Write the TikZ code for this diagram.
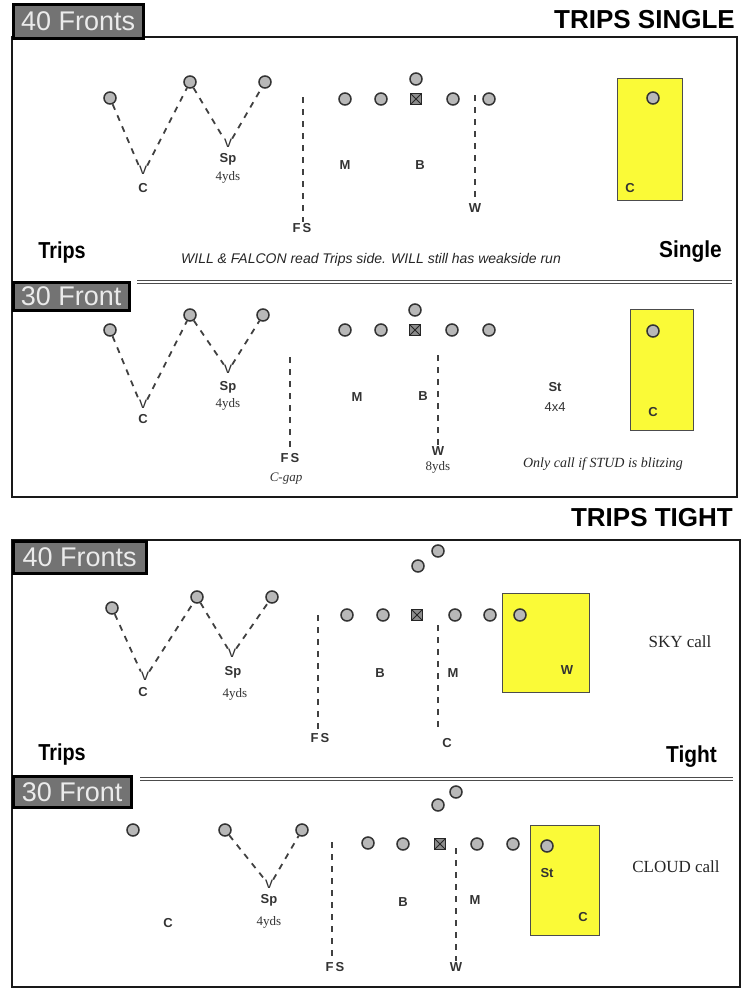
\documentclass[tikz,border=0pt]{standalone}
\usepackage{fontspec}
\setmainfont{Liberation Sans}
\newfontfamily\timesfont{Liberation Serif}
\usetikzlibrary{positioning}
\definecolor{zoneyellow}{RGB}{250,250,55}

\begin{document}
\begin{tikzpicture}[x=1pt,y=-1pt]
  \tikzstyle{Player}=[circle,draw=black!80,fill=black!28,line width=1.5pt,minimum size=12pt,inner sep=0pt]
  \tikzstyle{Snap}=[rectangle,draw=black!85,fill=black!45,line width=1.3pt,minimum size=11pt,inner sep=0pt,
    path picture={\draw[line width=.8pt] (path picture bounding box.north west) -- (path picture bounding box.south east)
                                         (path picture bounding box.north east) -- (path picture bounding box.south west);}]
  \tikzstyle{Route}=[draw=black!75,line width=1.8pt,dash pattern=on 6pt off 6pt]
  \tikzstyle{Vee}=[inner sep=0pt,font=\fontsize{16}{16}\selectfont,text=black!80]
  \tikzstyle{Pos}=[inner sep=1pt,font=\bfseries\fontsize{13}{13}\selectfont,text=black!80]
  \tikzstyle{Yds}=[inner sep=1pt,font=\timesfont\fontsize{13}{13}\selectfont,text=black!80]
  \tikzstyle{Zone}=[rectangle,draw=black!70,fill=zoneyellow,line width=1.3pt,anchor=north west,inner sep=0pt]
  \tikzstyle{Front}=[rectangle,draw=black,line width=2.5pt,fill=black!55,text=white!92!black,
    font=\fontsize{27}{27}\selectfont,anchor=north west,inner sep=0pt]
  \tikzstyle{Frame}=[draw=black!90,line width=2pt]
  \tikzstyle{Divider}=[draw=black!70,line width=1pt,double,double distance=2.5pt]
  \tikzstyle{Title}=[font=\bfseries\fontsize{26}{26}\selectfont,anchor=east,inner sep=0pt]
  \tikzstyle{Side}=[font=\bfseries\fontsize{22}{22}\selectfont,inner sep=0pt]
  \tikzstyle{Note}=[font=\itshape\fontsize{14}{14}\selectfont,inner sep=0pt,text=black!85]
  \tikzstyle{Call}=[font=\timesfont\fontsize{17}{17}\selectfont,inner sep=0pt,text=black!85]

  \useasboundingbox (0,0) rectangle (749,989);

  % frames
  \draw[Frame] (12,37) rectangle (737,497);
  \draw[Frame] (12,540) rectangle (740,987);
  \draw[Divider] (137,282) -- (732,282);
  \draw[Divider] (140,779) -- (733,779);

  \node[Front,minimum width=130,minimum height=34] (fronta) at (12,3) {40 Fronts};
  \node[Front,minimum width=116,minimum height=28] (frontb) at (12,281) {30 Front};
  \node[Front,minimum width=133,minimum height=32] (frontc) at (12,540) {40 Fronts};
  \node[Front,minimum width=118,minimum height=31] (frontd) at (12,775) {30 Front};

  \node[Title] (single) at (735,20) {TRIPS SINGLE};
  \node[Title] (tight) at (733,518) {TRIPS TIGHT};

  % TRIPS SINGLE - 40
  \node[Player] (a1) at (110,98) {};
  \node[Player] (a2) at (190,82) {};
  \node[Player] (a3) at (265,82) {};
  \node[Player] (a4) at (345,99) {};
  \node[Player] (a5) at (381,99) {};
  \node[Snap] (a6) at (416,99) {};
  \node[Player] (a7) at (416,79) {};
  \node[Player] (a8) at (453,99) {};
  \node[Player] (a9) at (489,99) {};
  \node[Zone,minimum width=65,minimum height=122] (za) at (617,78) {};
  \node[Player] (a10) at (653,98) {};
  \node[Pos] (zca) at (630,188) {C};

  \node[Vee] (va1) at (143,170) {v};
  \node[Pos] (ca) at (143,188) {C};
  \node[Vee] (va2) at (228,143) {v};
  \node[Pos] (spa) at (228,159) {Sp};
  \node[Yds] (yda) at (228,177) {4yds};
  \node[Pos] (ma) at (345,165) {M};
  \node[Pos] (ba) at (420,165) {B};
  \node[Pos] (fsa) at (302,228) {F\,S};
  \node[Pos] (wa) at (475,208) {W};
  \coordinate (fsatop) at (303,97);
  \coordinate (watop) at (475,95);

  \draw[Route] (a1) -- (va1.north west);
  \draw[Route] (va1.north east) -- (a2);
  \draw[Route] (a2) -- (va2.north west);
  \draw[Route] (va2.north east) -- (a3);
  \draw[Route] (fsatop) -- (fsatop |- fsa.north);
  \draw[Route] (watop) -- (watop |- wa.north);

  \node[Side] (tripsa) at (62,253) {\scalebox{0.9}[1.05]{Trips}};
  \node[Side,anchor=east] (sidea) at (722,252) {\scalebox{0.95}[1.05]{Single}};
  \node[Note] (notea) at (371,260) {WILL \& FALCON read Trips side. WILL still has weakside run};

  % TRIPS SINGLE - 30
  \node[Player] (b1) at (110,330) {};
  \node[Player] (b2) at (190,315) {};
  \node[Player] (b3) at (263,315) {};
  \node[Player] (b4) at (345,330) {};
  \node[Player] (b5) at (381,330) {};
  \node[Snap] (b6) at (415,330) {};
  \node[Player] (b7) at (415,310) {};
  \node[Player] (b8) at (452,330) {};
  \node[Player] (b9) at (489,330) {};
  \node[Zone,minimum width=63,minimum height=121] (zb) at (630,309) {};
  \node[Player] (b10) at (653,331) {};
  \node[Pos] (zcb) at (653,412) {C};

  \node[Vee] (vb1) at (143,404) {v};
  \node[Pos] (cb) at (143,419) {C};
  \node[Vee] (vb2) at (228,369) {v};
  \node[Pos] (spb) at (228,387) {Sp};
  \node[Yds] (ydb) at (228,404) {4yds};
  \node[Pos] (mb) at (357,397) {M};
  \node[Pos] (bb) at (423,396) {B};
  \node[Pos] (fsb) at (290,458) {F\,S};
  \node[Yds,font=\timesfont\itshape\fontsize{13}{13}\selectfont] (gapb) at (286,479) {C-gap};
  \node[Pos] (wb) at (438,451) {W};
  \node[Yds] (ydw) at (438,467) {8yds};
  \node[Pos] (stb) at (555,387) {St};
  \node[Yds,font=\fontsize{13}{13}\selectfont] (fourb) at (555,407) {4x4};
  \coordinate (fsbtop) at (290,357);
  \coordinate (wbtop) at (438,355);

  \draw[Route] (b1) -- (vb1.north west);
  \draw[Route] (vb1.north east) -- (b2);
  \draw[Route] (b2) -- (vb2.north west);
  \draw[Route] (vb2.north east) -- (b3);
  \draw[Route] (fsbtop) -- (fsbtop |- fsb.north);
  \draw[Route] (wbtop) -- (wbtop |- wb.north);

  \node[Call,font=\timesfont\itshape\fontsize{14}{14}\selectfont] (noteb) at (603,464) {Only call if STUD is blitzing};

  % TRIPS TIGHT - 40
  \node[Player] (c1) at (112,608) {};
  \node[Player] (c2) at (197,597) {};
  \node[Player] (c3) at (272,597) {};
  \node[Player] (c4) at (347,615) {};
  \node[Player] (c5) at (383,615) {};
  \node[Snap] (c6) at (417,615) {};
  \node[Player] (c7) at (455,615) {};
  \node[Player] (c8) at (490,615) {};
  \node[Zone,minimum width=87,minimum height=99] (zc) at (502,593) {};
  \node[Player] (c9) at (520,615) {};
  \node[Player] (c10) at (418,566) {};
  \node[Player] (c11) at (438,551) {};
  \node[Pos] (zwc) at (567,670) {W};

  \node[Vee] (vc1) at (145,676) {v};
  \node[Pos] (cc) at (143,692) {C};
  \node[Vee] (vc2) at (232,653) {v};
  \node[Pos] (spc) at (233,672) {Sp};
  \node[Yds] (ydc) at (235,694) {4yds};
  \node[Pos] (bc) at (380,673) {B};
  \node[Pos] (mc) at (453,673) {M};
  \node[Pos] (fsc) at (320,738) {F\,S};
  \node[Pos] (ccc) at (447,743) {C};
  \coordinate (fsctop) at (318,615);
  \coordinate (cctop) at (438,625);

  \draw[Route] (c1) -- (vc1.north west);
  \draw[Route] (vc1.north east) -- (c2);
  \draw[Route] (c2) -- (vc2.north west);
  \draw[Route] (vc2.north east) -- (c3);
  \draw[Route] (fsctop) -- (fsctop |- fsc.north);
  \draw[Route] (cctop) -- ++(0,105);

  \node[Call] (skyc) at (680,642) {SKY call};
  \node[Side] (tripsc) at (62,755) {\scalebox{0.9}[1.05]{Trips}};
  \node[Side,anchor=east] (sidec) at (717,757) {\scalebox{0.95}[1.05]{Tight}};

  % TRIPS TIGHT - 30
  \node[Player] (d1) at (133,830) {};
  \node[Player] (d2) at (225,830) {};
  \node[Player] (d3) at (302,830) {};
  \node[Player] (d4) at (368,843) {};
  \node[Player] (d5) at (403,844) {};
  \node[Snap] (d6) at (440,844) {};
  \node[Player] (d7) at (477,844) {};
  \node[Player] (d8) at (513,844) {};
  \node[Zone,minimum width=69,minimum height=110] (zd) at (530,825) {};
  \node[Player] (d9) at (547,846) {};
  \node[Player] (d10) at (438,805) {};
  \node[Player] (d11) at (456,792) {};
  \node[Pos] (std) at (547,873) {St};
  \node[Pos] (zcd) at (583,917) {C};

  \node[Vee] (vd) at (269,884) {v};
  \node[Pos] (spd) at (269,900) {Sp};
  \node[Yds] (ydd) at (269,922) {4yds};
  \node[Pos] (cd) at (168,923) {C};
  \node[Pos] (bd) at (403,902) {B};
  \node[Pos] (md) at (475,900) {M};
  \node[Pos] (fsd) at (335,967) {F\,S};
  \node[Pos] (wd) at (456,967) {W};
  \coordinate (fsdtop) at (332,842);
  \coordinate (wdtop) at (456,848);

  \draw[Route] (d2) -- (vd.north west);
  \draw[Route] (vd.north east) -- (d3);
  \draw[Route] (fsdtop) -- (fsdtop |- fsd.north);
  \draw[Route] (wdtop) -- (wdtop |- wd.north);

  \node[Call] (cloudd) at (676,867) {CLOUD call};
\end{tikzpicture}
\end{document}
